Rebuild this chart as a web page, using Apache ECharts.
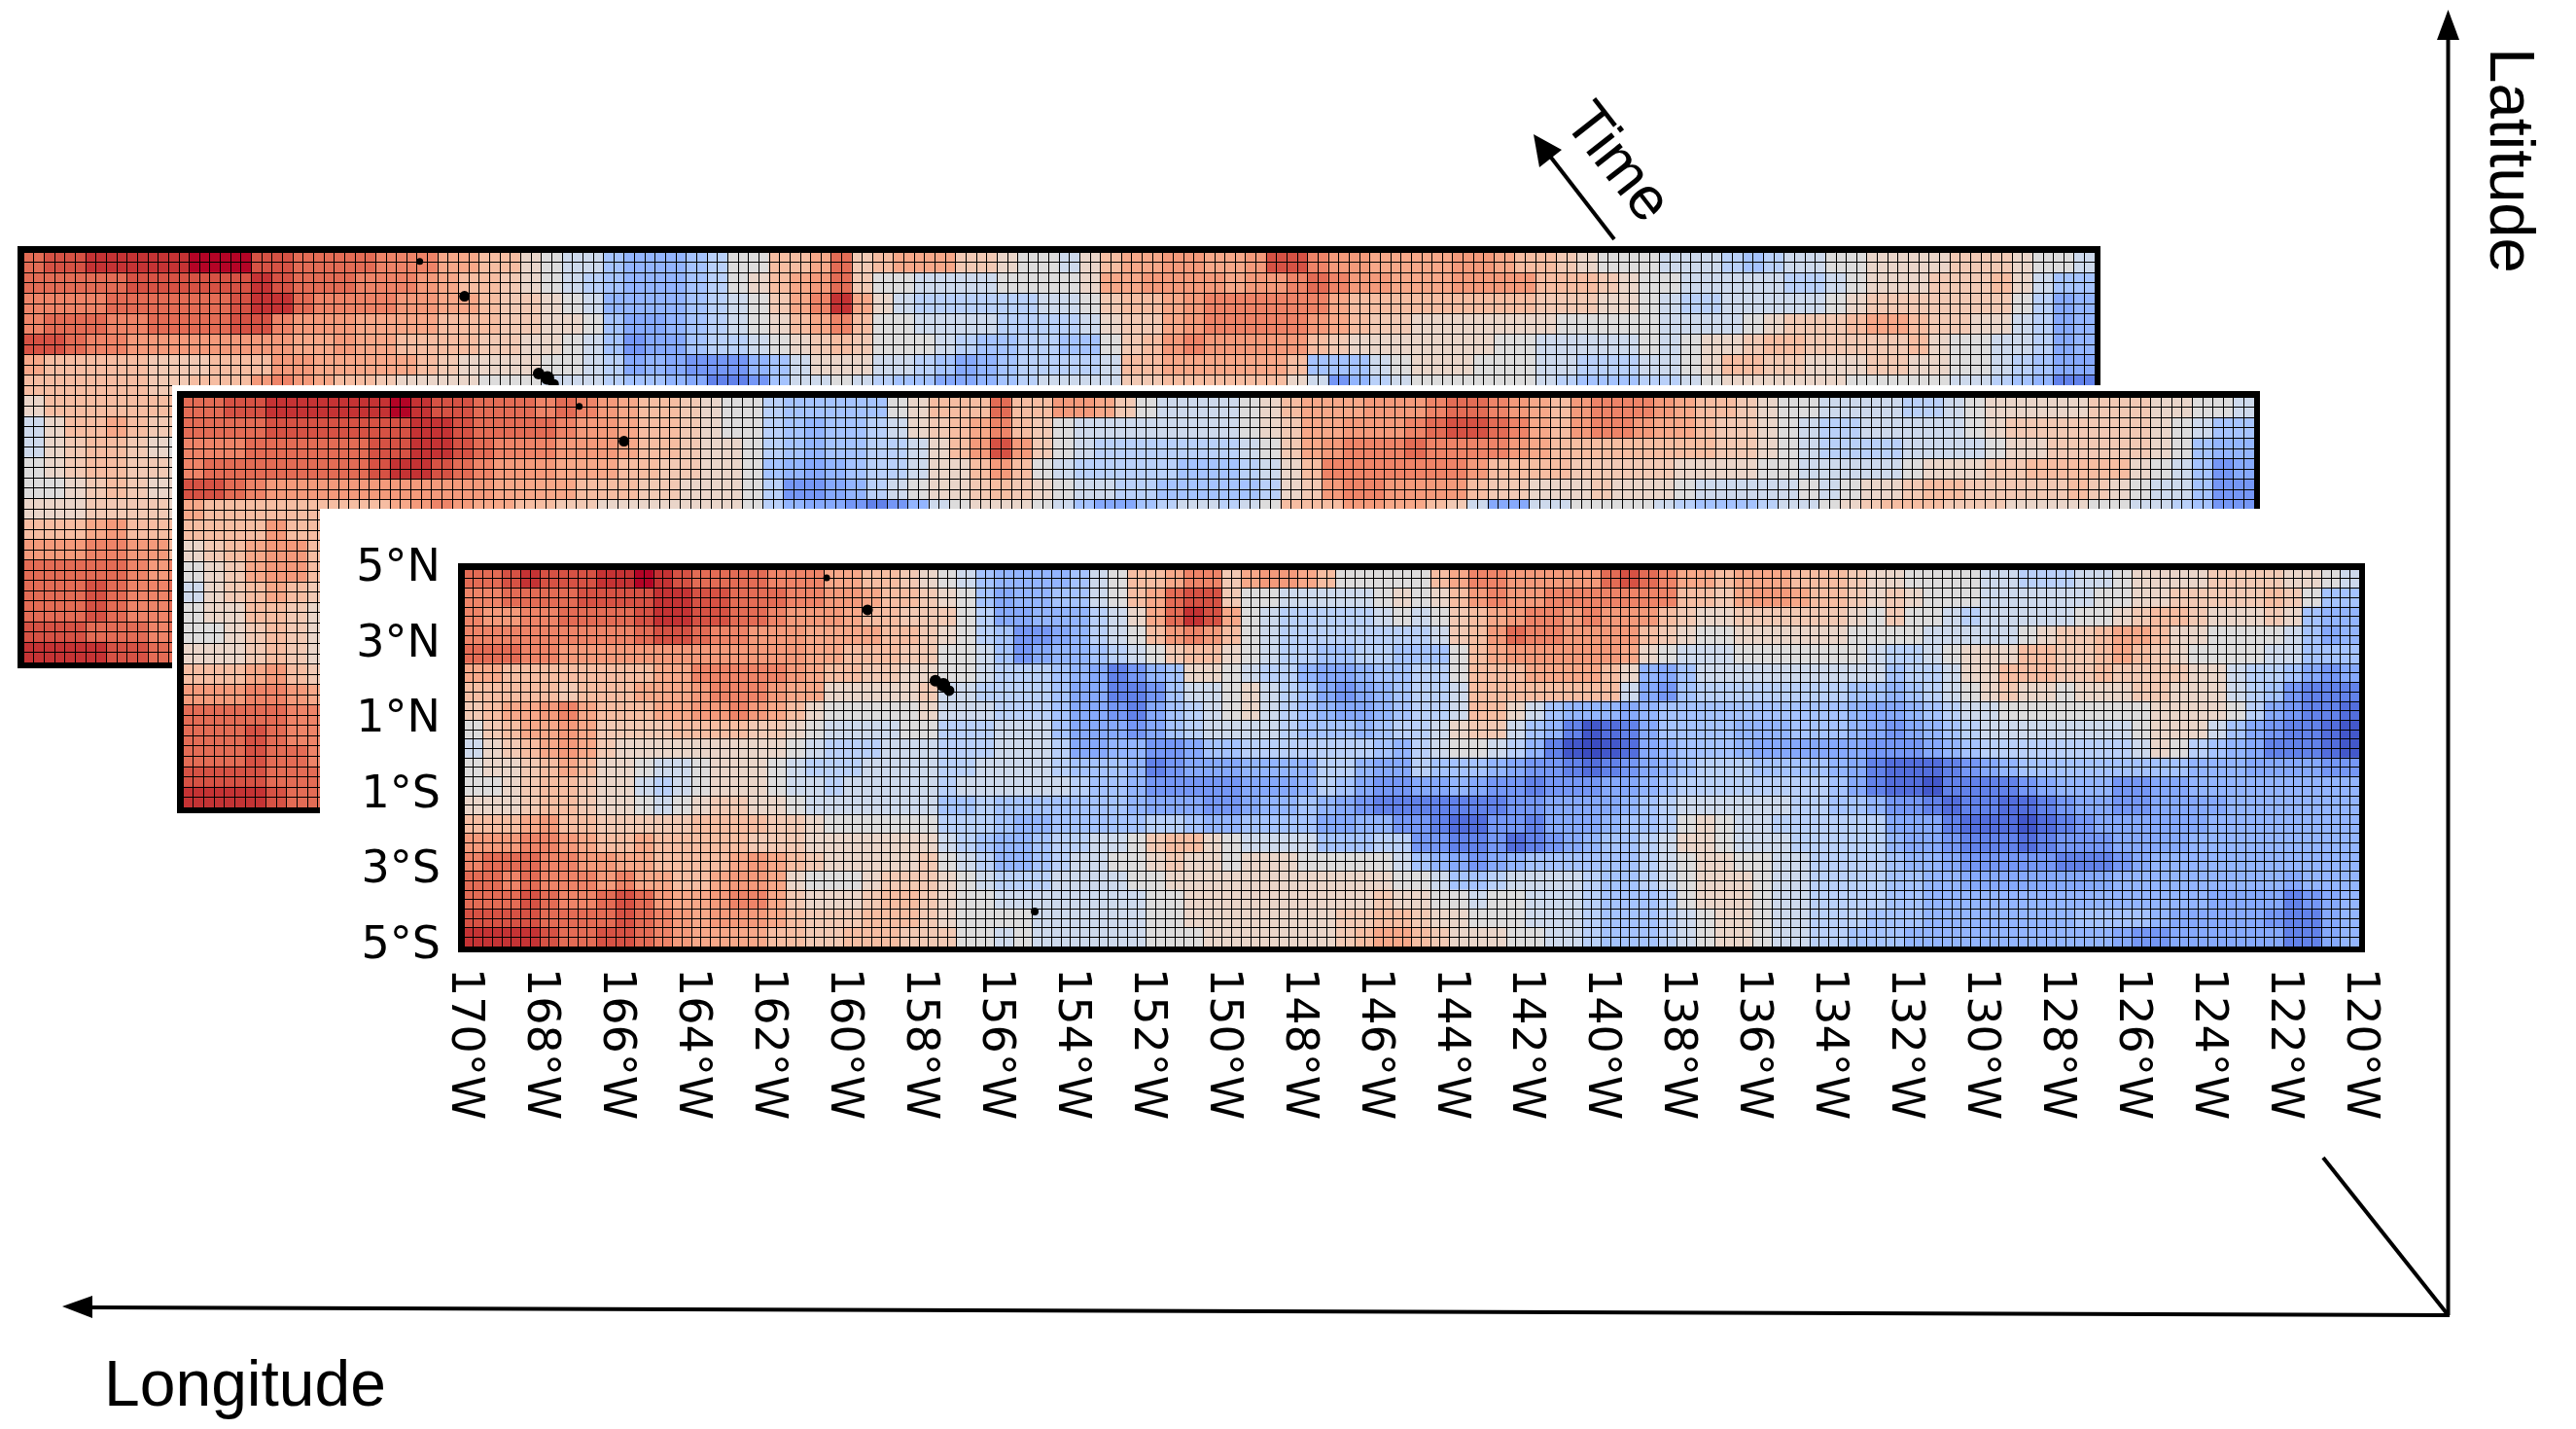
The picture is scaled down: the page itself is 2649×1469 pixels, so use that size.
<!DOCTYPE html>
<html>
<head>
<meta charset="utf-8">
<style>html,body{margin:0;padding:0;background:#fff}#chart{width:2649px;height:1469px}</style>
<script src="https://cdn.jsdelivr.net/npm/echarts@6/dist/echarts.min.js"></script>
</head>
<body>
<div id="chart"></div>
<script>
// Sea-surface anomaly on a half-degree lattice, rows run north to south, columns 170°W to 120°W.
const lonCells = Array.from({length: 100}, (_, i) => String(-170 + i * 0.5));
const latCells = Array.from({length: 20}, (_, i) => String(5 - i * 0.5));
const lonTicks = [-170,-168,-166,-164,-162,-160,-158,-156,-154,-152,-150,-148,-146,-144,-142,-140,-138,-136,-134,-132,-130,-128,-126,-124,-122,-120];
const latTicks = [-5,-3,-1,1,3,5];
const islandLons = [-160.43,-159.35,-157.56,-157.35,-157.2,-154.94];
const islandLats = [4.77,3.92,2.04,1.93,1.78,-4.07];
const islandDots = [7,11,12,14,11,8];

// Latest time step, the complete field.
const frontRows = [
[7,7,8,9,8,8,8,9,9,10,9,8,7,7,7,7,6,6,6,4,4,3,3,2,1, 0,-1,-3,-4,-4,-4,-4,-3,-1,0,3,3,4,6,6,2,4,5,5,4,3,0,0,0,0, 0,3,4,6,6,5,5,5,5,5,7,8,7,6,4,4,3,4,4,4,3,3,3,2,1, 1,0,0,0,0,-1,-1,-2,-2,-2,-1,-1,0,1,1,1,1,2,2,2,2,1,1,0,-1],
[6,6,7,7,7,7,8,8,8,8,9,9,8,8,7,7,7,6,6,5,5,4,3,3,2, 1,0,-3,-5,-4,-4,-3,-3,-1,0,3,4,7,8,8,2,0,0,-1,-1,-1,-1,-1,0,1, 0,1,3,5,6,5,5,6,6,6,6,6,6,6,3,3,2,4,5,5,4,3,3,2,1, 2,1,0,0,0,-1,-1,-1,-1,-1,-1,0,0,1,1,2,2,2,2,2,3,2,0,-3,-3],
[6,5,5,6,6,7,7,7,7,8,9,9,8,8,7,7,6,5,5,5,4,3,3,2,2, 2,0,-2,-5,-5,-4,-4,-4,-2,-1,1,4,7,9,8,4,0,-1,-2,-2,-2,-2,-2,-1,0, -1,0,2,3,4,5,6,6,5,6,5,5,5,3,2,1,1,2,2,2,2,2,2,1,0, 2,0,0,-1,-2,-1,-1,-1,-1,-1,0,0,1,2,3,3,2,1,1,1,2,1,-3,-4,-4],
[6,6,6,6,6,6,6,6,6,7,8,8,7,6,6,5,5,5,4,4,4,4,3,3,2, 1,0,-2,-3,-6,-6,-5,-4,-2,-1,0,3,5,6,5,3,0,-1,-2,-2,-2,-2,-2,-2,-2, -2,-1,2,3,5,7,6,6,5,5,5,5,3,2,1,0,0,1,1,1,1,1,1,0,0, 0,0,-1,-1,-1,-1,-1,0,1,2,2,3,4,4,3,1,1,0,0,0,0,-1,-3,-5,-4],
[7,7,7,6,6,5,5,5,5,5,5,5,5,5,5,5,5,5,4,4,3,3,3,2,2, 0,0,-1,-3,-6,-5,-4,-4,-3,-2,-1,0,2,3,3,1,0,-1,-2,-2,-3,-3,-2,-2,-3, -3,-3,0,3,4,5,5,5,5,5,5,4,1,0,-1,-1,-1,0,0,0,0,0,0,0,-1, -2,-2,-1,0,1,1,1,3,3,2,2,3,4,3,2,1,0,0,0,0,-1,-1,-3,-3,-3],
[4,4,3,3,3,3,3,3,3,3,4,4,6,6,6,6,6,5,4,3,3,2,2,1,1, 0,0,-1,-2,-2,-2,-3,-4,-5,-7,-6,-4,-3,1,1,0,-1,-2,-2,-4,-5,-5,-4,-3,-3, -2,-2,0,3,3,3,4,4,4,4,3,1,-4,-5,-3,-1,-1,-1,-1,-1,-1,-1,-1,-1,-1, -3,-2,-2,-1,1,1,3,3,3,2,2,3,2,2,2,2,1,1,-1,-2,-2,-3,-5,-6,-5],
[3,3,3,3,3,2,3,3,3,4,4,4,5,6,6,6,5,4,4,1,1,1,1,1,2, -1,-1,-2,-2,-2,-2,-3,-5,-5,-7,-7,-6,-3,-1,-1,0,1,-1,-2,-3,-5,-6,-5,-4,-3, -2,-2,-1,3,3,3,3,3,3,3,3,-1,-5,-6,-3,-2,-2,-2,-2,-2,-2,-2,-2,-3,-3, -4,-3,-2,-1,0,1,2,1,1,0,1,1,1,2,2,1,1,1,-1,-2,-3,-6,-7,-7,-7],
[2,3,4,4,5,6,4,3,3,3,4,4,5,5,6,5,4,3,1,0,0,0,0,0,1, -1,-1,-1,-2,-2,-2,-3,-5,-5,-6,-7,-5,-3,-2,-1,0,1,-1,-2,-3,-4,-5,-5,-4,-3, -2,-2,-1,3,3,1,-1,-3,-4,-4,-4,-5,-4,-3,-3,-3,-3,-3,-3,-3,-3,-3,-3,-4,-5, -5,-4,-3,-2,-1,-1,0,0,0,0,0,0,0,0,1,1,1,1,0,-2,-5,-6,-7,-7,-8],
[0,2,3,4,4,5,4,2,2,2,2,3,3,3,3,2,2,1,0,-1,-1,-1,-1,0,0, -2,-2,-2,-1,-1,-1,-3,-5,-5,-5,-6,-5,-3,-2,-1,-1,-1,-1,-2,-3,-3,-3,-4,-3,-2, -2,-1,1,2,2,-1,-3,-4,-7,-9,-8,-7,-5,-3,-3,-3,-3,-4,-4,-4,-3,-3,-3,-4,-5, -6,-5,-4,-3,-2,-1,-1,-1,-1,-1,-1,-1,-1,0,1,1,1,-1,-3,-5,-6,-7,-7,-8,-9],
[-1,1,2,3,4,5,4,2,1,1,1,1,1,1,1,1,1,0,-1,-2,-2,-2,-1,-1,-1, -2,-2,-2,-1,-1,-1,-2,-5,-5,-4,-4,-6,-6,-5,-3,-3,-2,-2,-2,-2,-2,-2,-2,-3,-4, -2,-1,0,0,-1,-2,-4,-7,-9,-10,-9,-8,-5,-4,-3,-3,-3,-4,-5,-5,-5,-5,-5,-5,-6, -6,-6,-5,-4,-3,-2,-2,-2,-2,-2,-2,-2,-2,-1,1,0,-2,-3,-4,-5,-7,-7,-7,-8,-9],
[0,1,1,2,3,4,3,1,1,0,-1,-1,0,1,1,1,0,-1,-2,-2,-2,-1,-1,-1,-1, -2,-2,-1,-1,-1,-1,-2,-3,-3,-3,-4,-7,-6,-5,-5,-5,-4,-4,-4,-4,-2,-2,-4,-5,-5, -2,-3,-3,-3,-4,-5,-6,-6,-7,-8,-7,-6,-5,-4,-3,-2,-2,-2,-3,-3,-3,-3,-4,-5,-7, -8,-8,-8,-7,-6,-5,-4,-3,-3,-3,-3,-3,-3,-3,-3,-3,-4,-4,-4,-5,-5,-5,-5,-6,-6],
[0,0,1,2,3,3,2,1,1,-1,-2,-1,0,1,1,1,0,-1,-1,-2,-1,-1,-1,-1,-1, -2,-1,-1,-1,-1,-1,-1,-2,-3,-3,-4,-6,-6,-6,-6,-6,-5,-5,-5,-4,-2,-3,-5,-6,-6, -5,-5,-4,-5,-6,-6,-7,-6,-6,-6,-5,-5,-4,-3,-2,-2,-2,-2,-2,-2,-2,-2,-3,-5,-7, -8,-8,-9,-7,-7,-7,-7,-6,-5,-4,-4,-4,-6,-6,-5,-5,-4,-4,-4,-4,-4,-4,-4,-4,-4],
[1,1,1,2,3,3,2,1,1,0,-1,0,1,2,2,1,1,0,-1,-1,-1,-1,-1,-1,-1, -3,-3,-2,-3,-3,-3,-3,-3,-3,-3,-4,-5,-5,-5,-6,-6,-5,-4,-4,-3,-4,-5,-6,-7,-7, -7,-7,-7,-7,-7,-6,-6,-5,-5,-5,-5,-4,-3,-2,-1,-1,-1,-1,-1,-1,-2,-2,-3,-3,-4, -6,-6,-7,-8,-7,-7,-8,-8,-7,-6,-5,-5,-6,-6,-5,-5,-5,-5,-4,-4,-4,-4,-4,-4,-4],
[3,3,3,4,5,3,3,2,2,2,2,2,3,3,3,3,2,2,1,0,0,0,0,0,0, -2,-2,-2,-3,-4,-4,-3,-3,-3,-3,-3,-2,-2,-3,-4,-4,-3,-3,-3,-3,-5,-5,-4,-4,-6, -6,-7,-8,-8,-6,-6,-7,-5,-5,-5,-4,-3,-3,-2,0,1,0,-1,-1,-2,-2,-2,-2,-2,-2, -5,-5,-5,-7,-8,-8,-8,-9,-8,-7,-6,-5,-5,-5,-5,-5,-5,-4,-4,-4,-4,-4,-4,-4,-4],
[5,5,5,6,6,5,4,3,3,4,3,3,3,3,3,2,2,2,1,1,1,1,1,1,1, -1,-2,-3,-4,-4,-3,-2,-2,-1,-1,0,2,3,3,1,0,-1,-1,-1,-1,-3,-3,-3,-2,-2, -6,-6,-7,-7,-6,-8,-7,-6,-5,-4,-3,-3,-2,-1,1,1,0,-1,-1,-1,-2,-2,-2,-2,-2, -4,-5,-5,-6,-7,-7,-7,-8,-7,-6,-6,-6,-5,-5,-5,-5,-4,-4,-4,-4,-4,-4,-4,-4,-4],
[6,7,7,7,6,6,5,5,4,4,3,3,3,3,4,5,4,3,2,1,1,1,1,1,2, 0,-1,-2,-4,-4,-3,-2,-1,-1,0,0,1,2,1,1,0,1,1,1,0,0,0,0,0,-1, -3,-4,-5,-6,-5,-4,-3,-3,-3,-3,-3,-3,-2,-1,0,1,1,0,0,-1,-1,-2,-2,-2,-2, -3,-4,-4,-5,-6,-6,-6,-6,-6,-7,-7,-7,-6,-5,-4,-4,-4,-4,-4,-4,-4,-4,-4,-4,-4],
[7,7,6,7,6,6,6,5,6,4,4,3,3,4,5,5,4,1,0,0,0,1,2,2,2, 1,0,-1,-2,-2,-2,-1,-1,-1,-1,0,0,1,1,1,1,1,1,1,1,1,1,1,1,0, 0,-1,-3,-3,-2,-1,-1,-1,-1,-2,-3,-3,-2,-1,0,1,1,1,0,-1,-1,-2,-2,-2,-2, -3,-3,-4,-4,-5,-5,-5,-5,-5,-5,-5,-5,-4,-4,-4,-4,-4,-4,-4,-4,-4,-5,-4,-4,-4],
[7,7,7,8,7,6,6,7,8,7,5,4,4,5,6,6,4,2,1,1,1,2,3,3,2, 1,0,0,-1,-1,-1,-1,-1,-1,-1,-1,0,0,1,1,1,1,1,1,1,1,1,1,2,1, 1,0,0,-1,0,0,-1,-1,-1,-2,-3,-3,-3,-2,0,1,1,1,0,-1,-1,-2,-2,-2,-2, -3,-3,-4,-4,-4,-4,-4,-4,-4,-4,-4,-4,-4,-4,-4,-4,-4,-5,-5,-5,-5,-7,-6,-5,-4],
[8,8,8,8,7,7,7,7,8,7,6,5,4,5,5,5,4,3,2,2,2,3,3,3,2, 1,0,0,0,0,-1,-1,-1,-1,-1,-1,0,0,1,1,1,1,1,1,1,1,2,2,3,3, 2,1,1,0,0,0,-1,-1,-1,-2,-3,-3,-3,-2,-1,0,1,1,0,-1,-1,-2,-2,-2,-3, -3,-3,-4,-4,-4,-4,-4,-4,-4,-4,-3,-3,-3,-3,-4,-5,-5,-5,-5,-5,-6,-7,-7,-5,-4],
[9,9,9,9,8,7,7,8,8,7,6,5,4,4,4,4,3,3,2,2,3,3,3,2,2, 2,0,0,-1,0,-1,-1,-1,-1,-1,-1,0,0,0,1,1,1,1,1,1,1,2,3,4,4, 3,2,1,1,1,0,0,-1,-1,-2,-3,-3,-3,-2,-1,0,1,1,0,-1,-1,-2,-2,-3,-3, -3,-4,-4,-4,-4,-4,-4,-4,-4,-4,-4,-4,-5,-6,-6,-5,-5,-5,-5,-5,-5,-7,-7,-5,-4]
];

// Previous time step: the northern rows span every longitude, the rest only the western edge.
const middleRows = [
[7,7,8,8,9,9,9,9,9,9,10,9,8,8,7,7,7,6,7,6,5,4,3,3,2,1,0,0,-2,-3,-3,-3,-3,-3,0,1,3,3,3,7,3,3,5,5,4,2,0,-1,-1,-1,-1,0,1,3,4,4,4,5,5,5,6,7,7,6,5,4,3,5,6,6,6,5,4,3,3,2,1,0,0,-1,-1,-1,-1,-2,-2,-1,0,1,1,1,1,1,2,2,2,1,1,0,0,-1],
[7,7,7,7,8,8,8,8,8,8,8,9,9,8,7,7,7,7,6,5,5,4,3,3,2,1,0,0,-2,-3,-4,-3,-3,-2,-1,1,2,3,4,6,3,2,0,-1,-1,-1,-1,-1,-1,-1,-1,0,1,2,4,4,5,5,5,6,7,8,8,7,6,4,3,5,6,6,5,4,4,3,2,2,1,0,-1,-2,-2,-1,-1,-1,-1,-1,0,1,2,2,2,2,2,2,2,1,0,-1,-3,-3],
[6,6,6,7,7,7,7,7,7,8,8,9,9,8,7,6,6,6,5,5,5,4,3,3,2,1,1,0,-2,-3,-4,-3,-3,-2,-2,-1,1,3,5,8,5,2,0,-1,-2,-2,-2,-2,-2,-2,-2,-1,0,2,4,5,6,6,6,7,6,6,6,6,5,4,3,3,3,3,3,3,3,3,2,2,1,0,-1,-2,-2,-2,-2,-1,-1,-1,-1,0,1,1,2,2,2,2,2,1,0,-3,-4,-4],
[6,7,7,7,7,7,7,7,7,8,9,9,8,7,6,5,5,5,4,4,4,3,3,2,2,1,1,0,-3,-4,-5,-4,-3,-2,-2,-1,1,1,3,5,3,0,-1,-2,-2,-2,-2,-2,-3,-3,-3,-2,-1,1,3,6,6,6,6,6,6,6,5,3,3,3,3,2,2,2,2,2,1,1,1,1,0,0,-1,-1,-1,-1,-1,0,1,1,1,2,2,3,3,3,3,3,1,0,-1,-3,-6,-5],
[8,8,7,6,5,5,5,5,5,5,5,5,5,5,5,4,4,4,4,3,3,3,2,2,1,1,1,0,-2,-6,-6,-5,-4,-2,-1,0,1,1,2,3,2,1,0,-1,-1,-2,-2,-3,-3,-3,-3,-3,-2,1,2,5,6,6,5,5,5,5,3,2,2,1,1,1,2,1,1,1,0,-1,-1,-1,-1,-1,0,-1,0,1,1,2,3,3,2,2,2,2,2,3,2,1,0,-1,-1,-3,-6,-6],
[4,3,3,3,3,3,3,3,3,3,4,5,6,5,4,4,3,3,2,2,1,1,1,1,1,1,1,0,-2,-4,-5,-5,-6,-7,-6,-4,-1,0,1,1,1,0,-1,-3,-5,-5,-3,-2,-1,-1,-2,-1,0,3,3,3,5,5,4,4,3,2,-1,-5,-5,-1,-1,0,0,0,0,-1,-2,-3,-3,-3,-2,-1,-1,0,1,2,3,3,3,2,2,2,1,1,1,1,0,0,-1,-1,-2,-3,-6,-6],
[3,3,3,3,5,3,3],
[1,2,3,4,5,5,3],
[0,1,2,4,5,5,3],
[-1,1,2,3,4,3,2],
[0,1,1,3,3,2,1],
[0,0,1,2,3,2,1],
[1,1,1,2,3,2,1],
[3,3,3,4,5,3,2],
[5,5,5,6,6,5,4],
[7,7,7,7,7,6,6],
[7,7,7,8,7,6,6],
[7,7,7,8,7,7,6],
[8,8,8,8,7,7,7],
[9,9,9,9,8,7,7]
];

// Earliest time step, same arrangement.
const backRows = [
[7,8,8,9,9,9,9,9,10,10,10,8,8,7,7,7,7,6,6,6,4,4,3,3,1,0,-1,-1,-3,-4,-4,-4,-3,-2,0,0,3,3,4,7,2,3,4,4,4,2,2,1,0,0,-1,1,3,4,4,5,5,4,4,5,8,8,6,5,5,4,4,4,4,5,5,4,3,3,2,1,0,0,0,-1,-1,-1,-2,-3,-2,-1,-1,0,0,1,1,1,1,2,2,2,1,0,0,-1],
[7,7,7,7,7,8,8,8,8,8,8,9,8,7,7,7,6,6,6,5,4,3,3,2,1,0,-1,-2,-3,-4,-4,-4,-3,-2,0,1,3,4,5,7,2,0,0,-1,-1,-1,-1,0,0,0,0,1,4,4,5,5,5,5,4,5,5,6,7,6,5,5,4,4,4,5,5,5,5,3,3,3,2,1,0,0,-1,-1,-1,-1,-1,-2,-2,-1,0,1,1,1,2,2,2,3,1,-1,-3,-3],
[6,6,6,6,7,7,7,7,7,7,8,9,9,7,6,6,6,6,5,5,4,4,3,2,2,1,0,-1,-4,-4,-4,-4,-3,-2,-1,0,2,4,6,9,4,1,-1,-2,-2,-2,-2,-2,-2,-1,-1,0,2,3,3,4,5,6,6,6,6,6,6,4,3,3,3,3,3,3,3,3,3,2,2,2,1,1,0,-1,-2,-2,-1,-1,-1,-1,-1,0,1,2,2,2,2,2,2,2,0,-2,-5,-4],
[6,7,7,7,6,6,7,7,7,7,8,8,6,5,5,5,4,4,4,4,3,3,3,2,2,1,1,0,-3,-5,-5,-4,-3,-2,-1,0,1,3,4,6,3,0,0,-1,-1,-1,-1,-2,-2,-2,-2,-1,1,2,2,4,5,6,6,6,6,6,5,4,3,2,2,1,1,1,1,1,1,1,0,0,0,0,0,-1,-1,-1,-1,0,1,2,2,2,3,4,4,3,2,2,1,1,-1,-2,-5,-4],
[8,8,7,6,6,5,5,5,5,5,5,5,5,4,4,5,4,4,3,3,3,3,2,2,1,1,0,-1,-3,-6,-5,-5,-3,-2,-2,-1,0,1,2,3,2,0,0,0,-1,-2,-3,-3,-2,-2,-3,-3,0,2,3,5,6,5,5,5,5,5,3,2,1,1,1,1,1,1,1,0,0,-1,-1,-1,-1,-1,0,-1,0,1,1,2,3,3,2,2,2,2,2,3,1,0,0,-1,-1,-2,-5,-4],
[4,3,3,3,3,3,2,2,2,3,3,3,5,5,4,4,4,4,4,3,2,1,1,1,1,0,0,-1,-2,-5,-4,-5,-6,-6,-6,-4,-3,-1,1,1,1,-1,-1,-2,-3,-5,-4,-3,-2,-2,-2,-2,-1,3,3,4,4,4,4,4,4,3,-3,-3,-3,-1,0,1,1,1,0,0,0,-1,-1,-2,-2,-2,-1,-1,0,1,3,3,2,2,1,1,1,2,2,1,1,0,0,-1,-2,-3,-5,-5],
[3,3,3,3,3,3,2,2,3,3,3,5,6,5,4,3,3,2,1,1,1,1,0,0,0,-1,-1,-1,-2,-3,-3,-4,-5,-7,-7,-6,-3,-1,-1,0,-1,-2,-3,-3,-5,-5,-4,-3,-2,-1,-1,-1,-1,2,2,3,3,3,3,3,3,1,-1,-6,-4,-2,-1,0,0,0,0,0,0,-1,-2,-3,-3,-3,-2,-2,-1,0,1,1,1,1,1,1,0,0,0,0,0,-1,-1,-2,-3,-4,-7,-7],
[1,3,3,3,3,3,3,3],
[-1,1,3,3,4,3,2,2],
[-1,1,2,3,3,2,1,0],
[0,1,2,3,3,2,2,1],
[0,0,1,2,3,2,1,1],
[1,1,1,2,2,2,2,1],
[3,3,3,4,5,3,3,3],
[5,5,5,6,6,5,5,3],
[7,7,7,7,7,6,5,6],
[7,7,7,8,7,6,6,7],
[7,7,7,8,7,6,6,7],
[8,8,8,7,7,7,6,7],
[9,9,9,9,8,8,7,7]
];

// Diverging ramp from cold blue through neutral grey to warm crimson, one stop per unit.
const ramp = ['#3b4cc0','#4358cb','#536edd','#6282ea','#7597f6','#86a9fc','#93b5fe','#a5c3fe','#b9d0f9','#cdd9ec','#dddcdc','#ead5c9','#f2c9b4','#f6bda2','#f7a889','#f49a7b','#ee8468','#e36c55','#d65244','#c53334','#b40426'];

const INK = '#000';
const xAxes = [], yAxes = [], series = [], graphics = [];
const heatIndices = [];

function cellsOf(rows) {
  const cells = [];
  rows.forEach((row, r) => row.forEach((v, c) => cells.push([c, r, v])));
  return cells;
}

// One time slice: coloured cells, quarter-degree mesh, thick frame, land dots.
function addSlice(rows, box, z, labelled) {
  const g = grids.length;
  grids.push({left: box.x, top: box.y, width: box.w, height: box.h, show: false});
  const base = xAxes.length;
  xAxes.push({type: 'category', gridIndex: g, data: lonCells, show: false});
  yAxes.push({type: 'category', gridIndex: g, data: latCells, show: false, inverse: true});
  xAxes.push({
    type: 'value', gridIndex: g, min: -170, max: -120, interval: 0.25, position: 'bottom', z: z + 1,
    axisLine: {show: false, onZero: false}, axisTick: {show: false},
    splitLine: {show: true, lineStyle: {color: INK, width: 1}},
    axisLabel: {
      show: labelled, customValues: lonTicks, rotate: -90, margin: 22, color: INK,
      fontFamily: 'DejaVu Sans', fontSize: 46, hideOverlap: false,
      formatter: v => Math.abs(v) + '°W'
    }
  });
  yAxes.push({
    type: 'value', gridIndex: g, min: -5, max: 5, interval: 0.25, position: 'left', z: z + 1,
    axisLine: {show: false, onZero: false}, axisTick: {show: false},
    splitLine: {show: true, lineStyle: {color: INK, width: 1}},
    axisLabel: {
      show: labelled, customValues: latTicks, margin: 24, color: INK,
      fontFamily: 'DejaVu Sans', fontSize: 46, hideOverlap: false, padding: [0, 0, 10, 0],
      formatter: v => Math.abs(v) + (v > 0 ? '°N' : '°S')
    }
  });
  heatIndices.push(series.length);
  series.push({
    type: 'heatmap', xAxisIndex: base, yAxisIndex: base, data: cellsOf(rows),
    z: z, progressive: 0, emphasis: {disabled: true}, itemStyle: {borderWidth: 0}
  });
  series.push({
    type: 'scatter', xAxisIndex: base + 1, yAxisIndex: base + 1, z: z + 3, silent: true,
    data: islandLons.map((lon, i) => [lon, islandLats[i]]),
    symbol: 'circle', symbolSize: (v, p) => islandDots[p.dataIndex],
    itemStyle: {color: INK, opacity: 1}
  });
  graphics.push({
    type: 'rect', z: z + 2, silent: true,
    shape: {x: box.x - 3, y: box.y - 3, width: box.w + 6, height: box.h + 6},
    style: {fill: 'none', stroke: INK, lineWidth: 6}
  });
}

function whiteSheet(x, y, w, h, z) {
  graphics.push({type: 'rect', z: z, silent: true, shape: {x, y, width: w, height: h}, style: {fill: '#fff'}});
}
function stroke(x1, y1, x2, y2) {
  graphics.push({type: 'line', z: 40, silent: true, shape: {x1, y1, x2, y2}, style: {stroke: INK, lineWidth: 4}});
}
function head(points) {
  graphics.push({type: 'polygon', z: 40, silent: true, shape: {points}, style: {fill: INK}});
}
function caption(text, x, y, deg, size) {
  graphics.push({
    type: 'text', z: 40, silent: true, x, y, rotation: deg * Math.PI / 180,
    style: {text, font: size + 'px "Liberation Sans"', fill: INK, textAlign: 'center', textVerticalAlign: 'middle', align: 'center', verticalAlign: 'middle'}
  });
}

const grids = [];
addSlice(backRows, {x: 24, y: 259, w: 2130, h: 422}, 2, false);
whiteSheet(177, 396, 2472, 450, 8);
addSlice(middleRows, {x: 188, y: 408, w: 2130, h: 422}, 10, false);
whiteSheet(329, 523, 2320, 470, 16);
addSlice(frontRows, {x: 477, y: 585, w: 1949, h: 388}, 18, true);

// Direction arrows and their captions.
stroke(2517.5, 1352, 2517.5, 38);
head([[2517.5, 10], [2506, 41], [2529, 41]]);
stroke(2519, 1352, 90, 1344);
head([[64, 1343], [95, 1332], [95, 1355]]);
stroke(2389, 1190, 2516, 1350);
stroke(1660, 246, 1592, 158);
head([[1577, 138], [1583, 172], [1606, 154]]);
caption('Latitude', 2579, 165, -90, 65);
caption('Longitude', 252, 1427, 0, 66);
caption('Time', 1662, 168, -52, 62);

const chart = echarts.init(document.getElementById('chart'), null, {renderer: 'canvas'});
chart.setOption({
  animation: false,
  backgroundColor: '#fff',
  tooltip: {show: false},
  grid: grids,
  xAxis: xAxes,
  yAxis: yAxes,
  visualMap: {show: false, type: 'continuous', min: -10, max: 10, seriesIndex: heatIndices, dimension: 2, inRange: {color: ramp}},
  series: series,
  graphic: {elements: graphics}
});
</script>
</body>
</html>
